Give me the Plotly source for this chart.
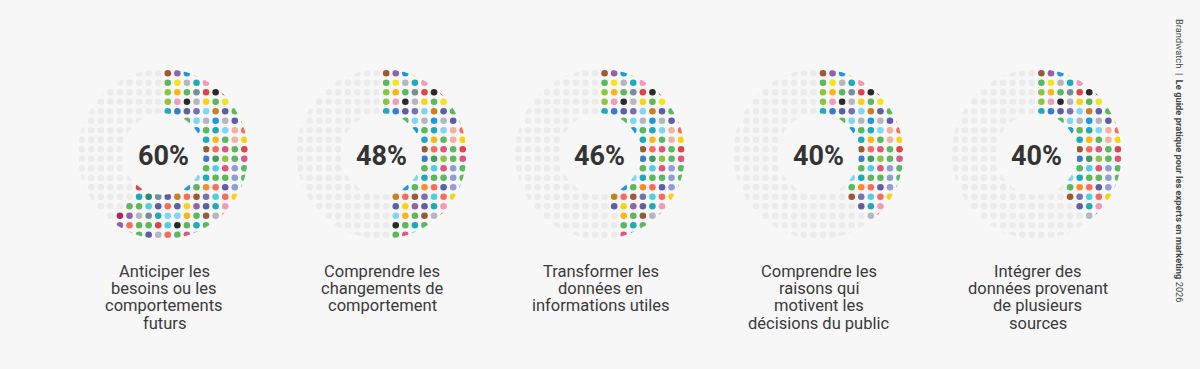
import plotly.graph_objects as go
import math

# ---------------- data ----------------
PCTS = [60, 48, 46, 40, 40]
PCT_LABELS = ["60%", "48%", "46%", "40%", "40%"]
LABELS = [
    ["Anticiper les", "besoins ou les", "comportements", "futurs"],
    ["Comprendre les", "changements de", "comportement"],
    ["Transformer les", "données en", "informations utiles"],
    ["Comprendre les", "raisons qui", "motivent les", "décisions du public"],
    ["Intégrer des", "données provenant", "de plusieurs", "sources"],
]
SIDE_TEXT = "Brandwatch  |  <b>Le guide pratique pour les experts en marketing</b> 2026"

# colour pattern of the dot grid (row -> (first column, colour names))
COLOR_ROWS = {
    0: (9, ["brown", "purple", "blue", "yellow"]),
    1: (9, ["green", "yellow", "grey", "teal", "pink", "pink"]),
    2: (9, ["lime", "amber", "green", "slate", "red", "black", "crimson"]),
    3: (9, ["lime", "pink", "black", "grey", "gold", "green", "yellow", "lime"]),
    4: (9, ["teal", "darkblue", "indigo", "violet", "lightblue", "ochre", "indigo", "green"]),
    5: (11, ["green", "lightblue", "grey", "blue", "grey", "indigo", "ochre"]),
    6: (12, ["blue", "green", "teal", "lightblue", "salmon", "coral"]),
    7: (13, ["teal", "amber", "green", "salmon", "gold"]),
    8: (13, ["brown", "coral", "magenta", "green", "red"]),
    9: (13, ["darkblue", "darkgreen", "lime", "green", "magenta"]),
    10: (13, ["green", "cyan", "magenta", "periwinkle", "green"]),
    11: (12, ["lightblue", "teal", "green", "green", "periwinkle", "green"]),
    12: (6, ["red", None, None, None, "salmon", "blue", "green", "orange", "coral", "indigo", "periwinkle", "green"]),
    13: (5, ["salmon", "teal", "darkteal", "slate", "indigo", "ochre", "coral", "brown", "violet", "cyan", "coral", "gold"]),
    14: (5, ["green", "green", "cyan", "indigo", "coral", "indigo", "gold", "purple", "indigo", "teal", "pink", "ochre"]),
    15: (4, ["crimson", "purple", "grey", "slate", "teal", "lightblue", "lightblue", "amber", "green", "brown", "grey", "ochre"]),
    16: (4, ["purple", "coral", "green", "green", "red", "cyan", "black", "green", "teal", "green"]),
    17: (5, ["grey", "green", "indigo", "grey", "coral", "green", "magenta", "periwinkle"]),
}

PALETTE = {
    "brown": "#9a5a35", "purple": "#8f63ab", "blue": "#1f97de", "yellow": "#f3e41c",
    "gold": "#fcd20f", "amber": "#fbb514", "green": "#5cb85c", "lime": "#8cc63f",
    "grey": "#b6b6be", "teal": "#1faabb", "pink": "#f39ab9", "slate": "#788c9a",
    "red": "#dc4449", "black": "#2a2a2a", "crimson": "#a8275b", "darkblue": "#3a7ad0",
    "indigo": "#5d5fa5", "violet": "#7670b6", "lightblue": "#80d4f6", "ochre": "#c9801f",
    "salmon": "#f4b0a2", "coral": "#fe6a5a", "magenta": "#e0567a", "darkgreen": "#3e9c5e",
    "periwinkle": "#8e9fd8", "cyan": "#4fcfe2", "orange": "#fb8c2e", "darkteal": "#2a8b72",
}

# ---------------- layout constants ----------------
W, H = 1200, 369
BG = "#f7f7f7"
GREY_DOT = "#ebebeb"
CX0, DCX, CY = 163.0, 218.4, 154.0
PITCH_X, PITCH_Y = 9.57, 9.5
N = 18
R_OUT, R_IN = 85.0, 40.8
DOT = 6.6

fig = go.Figure()
shapes = []
annotations = []

for i, pct in enumerate(PCTS):
    cx = CX0 + DCX * i
    limit = pct / 100 * 360
    gx, gy, colx, coly, cols = [], [], [], [], []
    for j in range(N):
        for k in range(N):
            dx = (k - (N - 1) / 2) * PITCH_X
            dy = (j - (N - 1) / 2) * PITCH_Y
            r = math.hypot(dx, dy)
            if r > R_OUT + DOT / 2 or r < R_IN - DOT / 2:
                continue
            ang = math.degrees(math.atan2(dx, -dy)) % 360
            x, y = cx + dx, CY + dy
            if ang < limit:
                c = None
                if j in COLOR_ROWS:
                    k0, names = COLOR_ROWS[j]
                    if k0 <= k < k0 + len(names):
                        c = names[k - k0]
                if c is None:
                    continue
                colx.append(x); coly.append(y); cols.append(PALETTE[c])
            else:
                gx.append(x); gy.append(y)
    fig.add_trace(go.Scatter(x=gx, y=gy, mode="markers", hoverinfo="skip",
                             marker=dict(size=DOT, color=GREY_DOT, line=dict(width=0))))
    fig.add_trace(go.Scatter(x=colx, y=coly, mode="markers", hoverinfo="skip",
                             marker=dict(size=DOT, color=cols, line=dict(width=0))))
    # masks clipping the dots to the ring
    ring_w = 10
    rr = R_OUT + ring_w / 2
    shapes.append(dict(type="circle", xref="x", yref="y", layer="above",
                       x0=cx - rr, x1=cx + rr, y0=CY - rr, y1=CY + rr,
                       line=dict(color=BG, width=ring_w), fillcolor="rgba(0,0,0,0)"))
    shapes.append(dict(type="circle", xref="x", yref="y", layer="above",
                       x0=cx - R_IN, x1=cx + R_IN, y0=CY - R_IN, y1=CY + R_IN,
                       line=dict(width=0), fillcolor=BG))
    annotations.append(dict(x=cx, y=CY + 1.5, xref="x", yref="y", text="<b>%s</b>" % PCT_LABELS[i],
                            showarrow=False, xanchor="center", yanchor="middle",
                            font=dict(family="Roboto", size=27, color="#333333")))
    for li, line in enumerate(LABELS[i]):
        annotations.append(dict(x=cx + 1, y=271.5 + li * 17.2, xref="x", yref="y", text=line,
                                showarrow=False, xanchor="center", yanchor="middle",
                                font=dict(family="Roboto", size=16.5, color="#3a3a3a")))

annotations.append(dict(x=1180, y=161, xref="x", yref="y", text=SIDE_TEXT, textangle=90,
                        showarrow=False, xanchor="center", yanchor="middle",
                        font=dict(family="Roboto", size=9.3, color="#444444")))

fig.update_layout(
    width=W, height=H, autosize=False,
    margin=dict(l=0, r=0, t=0, b=0, pad=0),
    paper_bgcolor=BG, plot_bgcolor=BG,
    showlegend=False,
    xaxis=dict(range=[0, W], visible=False, fixedrange=True),
    yaxis=dict(range=[H, 0], visible=False, fixedrange=True),
    shapes=shapes, annotations=annotations,
)

fig.write_html("out.html", config={"displayModeBar": False})
